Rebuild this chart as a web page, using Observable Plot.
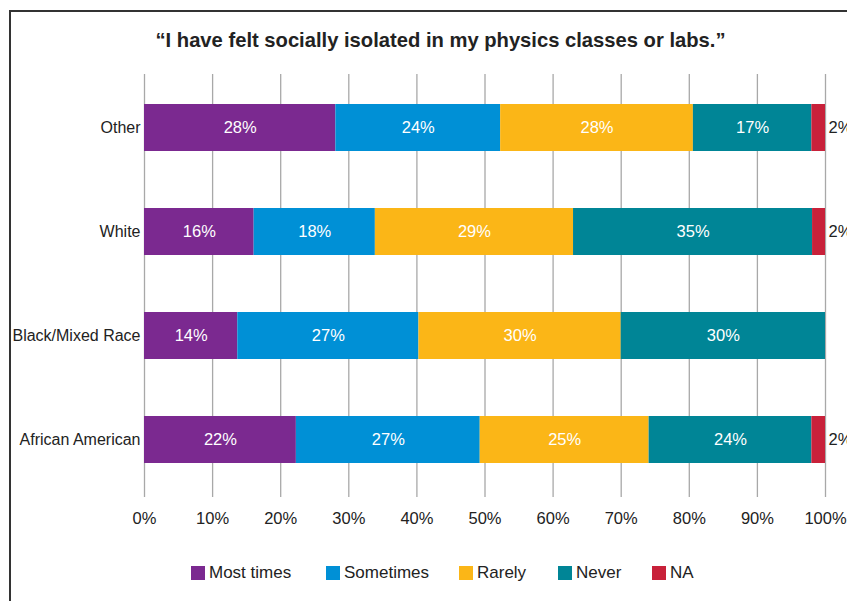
<!DOCTYPE html>
<html><head><meta charset="utf-8">
<script src="https://cdn.jsdelivr.net/npm/d3@7"></script>
<script src="https://cdn.jsdelivr.net/npm/@observablehq/plot@0.6"></script>
<style>
body{margin:0;background:#fff;font-family:"Liberation Sans",Arial,Helvetica,sans-serif;}
#wrap{position:relative;width:847px;height:601px;overflow:hidden;background:#fff;}
#frame{position:absolute;left:9px;top:10px;width:900px;height:700px;border-left:2px solid #333;border-top:2px solid #333;}
#title{position:absolute;left:0;width:881px;top:29px;text-align:center;font-weight:bold;font-size:20.2px;color:#222;}
#chart{position:absolute;left:0;top:0;}
#legend{position:absolute;top:563px;left:0;width:847px;height:22px;font-size:17px;color:#222;}
#legend .item{position:absolute;top:0;display:flex;align-items:center;gap:4px;}
#legend .sw{width:14px;height:14px;display:inline-block;}
</style>
</head><body>
<div id="wrap">
  <div id="frame"></div>
  <div id="title">“I have felt socially isolated in my physics classes or labs.”</div>
  <div id="chart"></div>
  <div id="legend"></div>
</div>
<script>
const groups = ["Other", "White", "Black/Mixed Race", "African American"];
const categories = ["Most times", "Sometimes", "Rarely", "Never", "NA"];
const colors = ["#7B2990", "#0090D6", "#FBB617", "#008596", "#C8213A"];
const mostTimes = [28.1, 16.1, 13.7, 22.3];
const sometimes = [24.2, 17.8, 26.6, 27.0];
const rarely = [28.3, 29.1, 29.7, 24.8];
const never = [17.4, 35.1, 30.0, 23.9];
const na = [2.0, 1.9, 0, 2.0];
const xTicks = [0, 10, 20, 30, 40, 50, 60, 70, 80, 90, 100];
const legendLefts = [191, 326, 459, 558, 652];

const series = [mostTimes, sometimes, rarely, never, na];
const rows = [];
groups.forEach((g, gi) => {
  categories.forEach((c, ci) => {
    rows.push({group: g, category: c, value: series[ci][gi]});
  });
});

const fmt = d => Math.round(d) + "%";

const chart = Plot.plot({
  width: 847,
  height: 545,
  marginTop: 74,
  marginBottom: 48,
  marginLeft: 144,
  marginRight: 22,
  style: {background: "transparent", color: "#222", fontFamily: "'Liberation Sans', Arial, Helvetica, sans-serif", overflow: "visible"},
  x: {domain: [0, 100], label: null},
  y: {domain: groups, label: null, paddingInner: 0.5524, paddingOuter: 0.2905, align: 0.459},
  color: {domain: categories, range: colors},
  marks: [
    Plot.gridX(xTicks, {stroke: "#a8a8a8", strokeOpacity: 1, strokeWidth: 1.3}),
    Plot.barX(rows, Plot.stackX({x: "value", y: "group", fill: "category"})),
    Plot.text(rows.filter(d => d.category !== "NA" && d.value > 0),
      Plot.stackX({x: "value", y: "group", z: "category", text: d => fmt(d.value), fill: "white", fontSize: 16.5})),
    Plot.text(rows.filter(d => d.category === "NA" && d.value > 0),
      {x: 100, y: "group", text: d => fmt(d.value), dx: 3, textAnchor: "start", fill: "#222", fontSize: 16.5}),
    Plot.axisX(xTicks, {tickSize: 0, tickPadding: 15, tickFormat: d => d + "%", fontSize: 16.5, label: null}),
    Plot.axisY({tickSize: 0, tickPadding: 4, fontSize: 16, label: null})
  ]
});
document.getElementById("chart").appendChild(chart);

const legend = document.getElementById("legend");
categories.forEach((c, i) => {
  const item = document.createElement("div");
  item.className = "item";
  item.style.left = legendLefts[i] + "px";
  const sw = document.createElement("span");
  sw.className = "sw";
  sw.style.background = colors[i];
  const t = document.createElement("span");
  t.textContent = c;
  item.appendChild(sw);
  item.appendChild(t);
  legend.appendChild(item);
});
</script>
</body></html>
